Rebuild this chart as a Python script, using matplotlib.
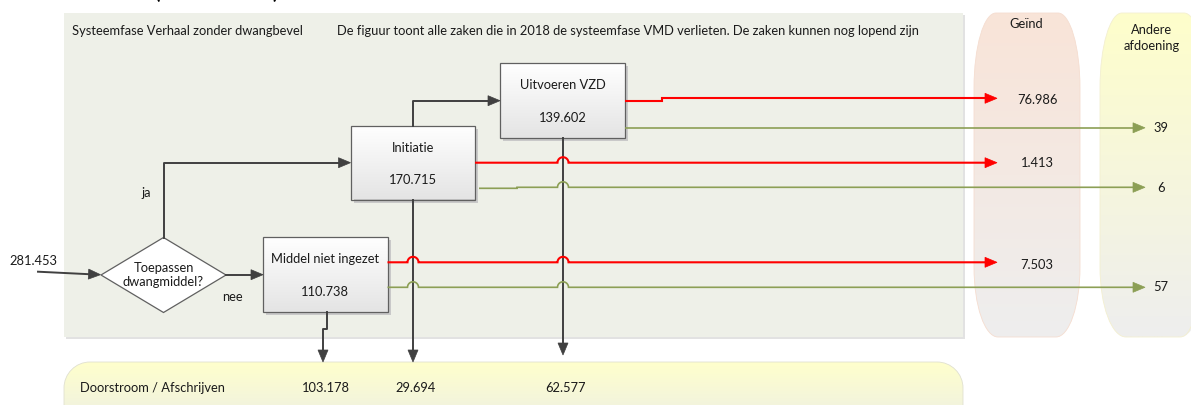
import numpy as np
import matplotlib.pyplot as plt
from matplotlib.path import Path
from matplotlib.patches import PathPatch, Rectangle, Polygon
from matplotlib.colors import to_rgb

plt.rcParams['font.family'] = ['Lato', 'DejaVu Sans']

# flow values (cases leaving the VMD system phase in 2018)
instroom = 281453
stappen = ['Middel niet ingezet', 'Initiatie', 'Uitvoeren VZD']
stap_aantal = [110738, 170715, 139602]
geind = [7503, 1413, 76986]          # per step: Middel, Initiatie, Uitvoeren
andere_afdoening = [57, 6, 39]
doorstroom = [103178, 29694, 62577]

kop_links = 'Systeemfase Verhaal zonder dwangbevel'
kop_rechts = ('De figuur toont alle zaken die in 2018 de systeemfase VMD verlieten. '
              'De zaken kunnen nog lopend zijn')


def fmt(v):
    return f"{v:,}".replace(",", ".")


DARK = '#404040'
RED = '#ff0000'
GREEN = '#8c9f55'
TXT = '#1a1a1a'
FS = 9.3

fig = plt.figure(figsize=(11.91, 4.05), dpi=100)
ax = fig.add_axes([0, 0, 1, 1])


def rounded_path(x0, y0, x1, y1, rxt, ryt, rxb, ryb):
    k = 0.5523
    v = [(x0 + rxt, y0), (x1 - rxt, y0),
         (x1 - rxt + k * rxt, y0), (x1, y0 + ryt - k * ryt), (x1, y0 + ryt),
         (x1, y1 - ryb),
         (x1, y1 - ryb + k * ryb), (x1 - rxb + k * rxb, y1), (x1 - rxb, y1),
         (x0 + rxb, y1),
         (x0 + rxb - k * rxb, y1), (x0, y1 - ryb + k * ryb), (x0, y1 - ryb),
         (x0, y0 + ryt),
         (x0, y0 + ryt - k * ryt), (x0 + rxt - k * rxt, y0), (x0 + rxt, y0),
         (x0 + rxt, y0)]
    c = [Path.MOVETO, Path.LINETO,
         Path.CURVE4, Path.CURVE4, Path.CURVE4,
         Path.LINETO,
         Path.CURVE4, Path.CURVE4, Path.CURVE4,
         Path.LINETO,
         Path.CURVE4, Path.CURVE4, Path.CURVE4,
         Path.LINETO,
         Path.CURVE4, Path.CURVE4, Path.CURVE4,
         Path.CLOSEPOLY]
    return Path(v, c)


def gradient(patch, x0, x1, y0, y1, top, bottom, z):
    t = np.linspace(0, 1, 128)[:, None, None]
    arr = (1 - t) * np.array(to_rgb(top)) + t * np.array(to_rgb(bottom))
    im = ax.imshow(arr, extent=(x0, x1, y1, y0), origin='upper', aspect='auto',
                   zorder=z, interpolation='bilinear')
    im.set_clip_path(patch)


def shape(path, top, bottom, edge, z, lw=0.6):
    ext = path.get_extents()
    p = PathPatch(path, facecolor='none', edgecolor=edge, lw=lw, zorder=z + 0.1)
    ax.add_patch(p)
    clip = PathPatch(path, facecolor='none', edgecolor='none')
    ax.add_patch(clip)
    gradient(clip, ext.x0, ext.x1, ext.y0, ext.y1, top, bottom, z)


def head(tip, d, length=12, half=5, color=DARK):
    d = np.array(d, float)
    d /= np.hypot(*d)
    n = np.array([-d[1], d[0]])
    tip = np.array(tip, float)
    base = tip - d * length
    ax.add_patch(Polygon([tip, base + n * half, base - n * half], closed=True,
                         facecolor=color, edgecolor=color, lw=0.5, zorder=6))


def flow(x0, x1, y, color, lw, hops=(), step=None, r=5.5, hl=12):
    ev = [(h, 'hop', None) for h in hops]
    if step:
        ev.append((step[0], 'step', step[1]))
    ev.sort()
    pts = [(x0, y)]
    yc = y
    for x, kind, val in ev:
        if kind == 'hop':
            pts.append((x - r, yc))
            for t in np.linspace(np.pi, 0, 16):
                pts.append((x + r * np.cos(t), yc - r * np.sin(t)))
            pts.append((x + r, yc))
        else:
            pts.append((x, yc))
            yc = val
            pts.append((x, yc))
    pts.append((x1 - hl + 1, yc))
    pts = np.array(pts)
    ax.plot(pts[:, 0], pts[:, 1], color=color, lw=lw, zorder=4,
            solid_joinstyle='miter', solid_capstyle='butt')
    head((x1, yc), (1, 0), length=hl, half=5, color=color)


def label(x, y, s, ha='center', **kw):
    ax.text(x, y, s, fontsize=FS, color=TXT, ha=ha, va='center', zorder=7, **kw)


# background panels
ax.add_patch(Rectangle((66, 15), 899, 324, facecolor='#e2e2e2', edgecolor='none', zorder=0))
ax.add_patch(Rectangle((64, 13), 899, 324, facecolor='#eef0e8', edgecolor='none', zorder=0.5))

shape(rounded_path(974, 13, 1080, 337, 22, 75, 24, 70), '#f9e4d8', '#eeeeee', '#f5ddd0', 0.5)
shape(rounded_path(1100, 13, 1206, 337, 22, 75, 26, 70), '#fefecb', '#eeeeee', '#f3efd0', 0.5)
shape(rounded_path(64, 362, 963, 430, 26, 26, 26, 26), '#ffffcc', '#eceee6', '#e0e0d0', 0.5)

label(72, 31, kop_links, ha='left')
label(337, 31, kop_rechts, ha='left')
label(1026, 24, 'Geïnd')
label(1152, 38, 'Andere\nafdoening', linespacing=1.3)
label(80, 388, 'Doorstroom / Afschrijven', ha='left')

# heading above the canvas, only the bottom of the brackets shows
ax.text(157, -1, '(', fontsize=14, fontweight='bold', color='black', va='baseline', ha='center')
ax.text(275, -1, ')', fontsize=14, fontweight='bold', color='black', va='baseline', ha='center')

# process boxes
boxes = [(263, 237, 387.5, 312), (350.5, 125.5, 475, 199.5), (500, 63, 625, 138)]
for (x0, y0, x1, y1), naam, n in zip(boxes, stappen, stap_aantal):
    ax.add_patch(Rectangle((x0 + 3, y0 + 3), x1 - x0, y1 - y0, facecolor='#c9c9c9',
                           edgecolor='none', zorder=2))
    p = Path([(x0, y0), (x1, y0), (x1, y1), (x0, y1), (x0, y0)],
             [Path.MOVETO, Path.LINETO, Path.LINETO, Path.LINETO, Path.CLOSEPOLY])
    shape(p, '#ffffff', '#e4e4e4', '#606060', 2.5, lw=0.9)
    label((x0 + x1) / 2, y0 + 22, naam)
    label((x0 + x1) / 2, y0 + 55, fmt(n))

# decision diamond
cx, cy, hw, hh = 163.5, 275, 62.5, 37.5
ax.add_patch(Polygon([(cx, cy - hh), (cx + hw, cy), (cx, cy + hh), (cx - hw, cy)], closed=True,
                     facecolor='white', edgecolor='#606060', lw=0.9, zorder=3))
label(cx, cy, 'Toepassen\ndwangmiddel?', linespacing=1.2)
label(33, 261, fmt(instroom))
label(146, 193, 'ja')
label(232, 297, 'nee')

lw_d = 1.4
# inflow
ax.plot([38, 89], [271.7, 274.2], color=DARK, lw=lw_d, zorder=4)
head((100.5, 274.7), (62, 3))
# nee
ax.plot([cx + hw, 253], [274.7, 274.7], color=DARK, lw=lw_d, zorder=4)
head((263, 274.7), (1, 0))
# ja
ax.plot([cx, cx, 340], [cy - hh, 162.7, 162.7], color=DARK, lw=lw_d, zorder=4)
head((350.5, 162.7), (1, 0))
# initiatie -> uitvoeren
ax.plot([413, 413, 490], [125.5, 100.7, 100.7], color=DARK, lw=lw_d, zorder=4)
head((500, 100.7), (1, 0))

# downward flows to Doorstroom
ax.plot([326.5, 326.5, 323, 323], [312, 329, 329, 352], color=DARK, lw=lw_d, zorder=4)
head((323, 362), (0, 1))
ax.plot([413, 413], [199.5, 352], color=DARK, lw=lw_d, zorder=4)
head((413, 362), (0, 1))
ax.plot([563, 563], [138, 345], color=DARK, lw=lw_d, zorder=4)
head((563, 355), (0, 1))
for x, v in zip([326, 416, 566], doorstroom):
    label(x, 388, fmt(v))

# outgoing flows: red = geind, green = andere afdoening
flow(625, 997, 100.7, RED, 1.5, step=(662, 98.3))
flow(625, 1145, 127.8, GREEN, 1.2)
flow(475, 997, 162.7, RED, 1.5, hops=(563,))
flow(479, 1145, 188.3, GREEN, 1.2, hops=(563,), step=(517, 187.3))
flow(387.5, 997, 262.3, RED, 1.5, hops=(413, 563))
flow(387.5, 1145, 287.3, GREEN, 1.2, hops=(413, 563))

for y, v in zip([265, 163, 100], geind):
    label(1037, y, fmt(v))
for y, v in zip([287.3, 188, 128], andere_afdoening):
    label(1161, y, fmt(v))

ax.set_xlim(0, 1191)
ax.set_ylim(405, 0)
ax.axis('off')
fig.savefig('out.png', dpi=100, facecolor='white')
